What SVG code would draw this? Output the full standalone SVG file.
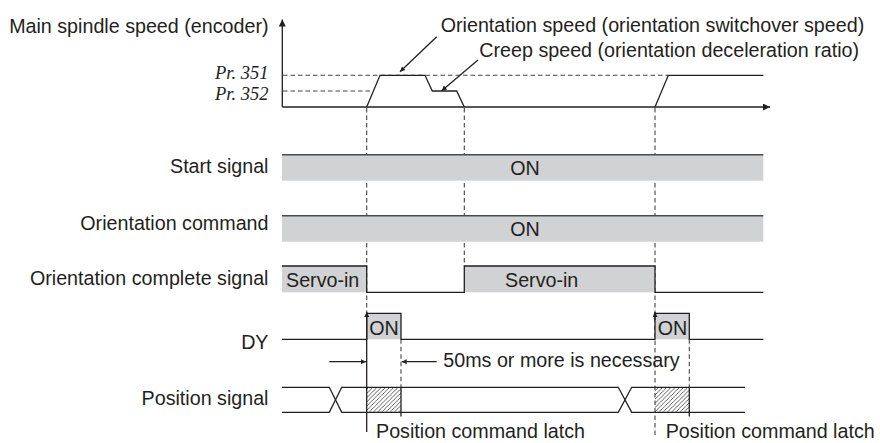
<svg xmlns="http://www.w3.org/2000/svg" width="880" height="443" viewBox="0 0 880 443">
<style>
text{font-family:"Liberation Sans",Arial,sans-serif;font-size:19.7px;fill:#231f20}
.r{text-anchor:end}
.pr{font-family:"Liberation Serif","Times New Roman",serif;font-style:italic;font-size:18.5px}
.ln{fill:none;stroke:#231f20;stroke-width:1.3}
.dash{fill:none;stroke:#444;stroke-width:1.1;stroke-dasharray:4.5 3}
.bar{fill:#d1d2d4}
.top{stroke:#4a4a4a;stroke-width:1.6}
</style>
<defs>
<marker id="big" viewBox="0 0 10 10" refX="10" refY="5" markerWidth="8" markerHeight="7" markerUnits="userSpaceOnUse" orient="auto"><path d="M0,0 L10,5 L0,10 z" fill="#231f20"/></marker>
<marker id="sm" viewBox="0 0 10 10" refX="10" refY="5" markerWidth="7" markerHeight="5" markerUnits="userSpaceOnUse" orient="auto"><path d="M0,0 L10,5 L0,10 z" fill="#231f20"/></marker>
<pattern id="hatch" patternUnits="userSpaceOnUse" width="4.2" height="4.2"><path d="M-1,1 L1,-1 M0,4.2 L4.2,0 M3.2,5.2 L5.2,3.2" stroke="#231f20" stroke-width="0.7"/></pattern>
</defs>

<g id="labels">
<text class="r" x="268.5" y="33.3">Main spindle speed (encoder)</text>
<text class="r pr" x="268.5" y="79">Pr. 351</text>
<text class="r pr" x="268.5" y="100">Pr. 352</text>
<text class="r" x="268.5" y="173.3">Start signal</text>
<text class="r" x="268.5" y="230">Orientation command</text>
<text class="r" x="268.5" y="285">Orientation complete signal</text>
<text class="r" x="268.5" y="349">DY</text>
<text class="r" x="268.5" y="405">Position signal</text>
</g>

<g id="speed">
<line class="ln" x1="282.3" y1="107" x2="282.3" y2="19.5" marker-end="url(#big)"/>
<line class="ln" x1="282.3" y1="107" x2="770" y2="107" marker-end="url(#big)"/>
<line class="dash" x1="283" y1="75.3" x2="668" y2="75.3"/>
<line class="dash" x1="283" y1="91" x2="373" y2="91"/>
<polyline class="ln" points="366.7,107 380,75.3 425,75.3 432.3,91 456.7,91 464.3,107"/>
<polyline class="ln" points="655,107 668.3,75.3 763.3,75.3"/>
<text x="440.7" y="31.7">Orientation speed (orientation switchover speed)</text>
<text x="479.3" y="56.7">Creep speed (orientation deceleration ratio)</text>
<line class="ln" stroke-width="1" x1="436.7" y1="36.7" x2="400" y2="71.7" marker-end="url(#sm)"/>
<line class="ln" stroke-width="1" x1="478" y1="60" x2="441.7" y2="90.7" marker-end="url(#sm)"/>
</g>

<g id="guides">
<line class="dash" x1="366.7" y1="108" x2="366.7" y2="313"/>
<line class="dash" x1="464.3" y1="108" x2="464.3" y2="266"/>
<line class="dash" x1="655" y1="108" x2="655" y2="437"/>
<line class="dash" x1="401" y1="339.3" x2="401" y2="387"/>
<line class="dash" x1="689.3" y1="339.3" x2="689.3" y2="387"/>
</g>

<g id="start-signal">
<rect class="bar" x="282" y="154.7" width="481.3" height="26"/>
<line class="top" x1="282" y1="154.7" x2="763.3" y2="154.7"/>
<text x="525" y="175" text-anchor="middle">ON</text>
</g>

<g id="orientation-command">
<rect class="bar" x="282" y="215.7" width="481.3" height="26"/>
<line class="top" x1="282" y1="215.7" x2="763.3" y2="215.7"/>
<text x="525" y="236" text-anchor="middle">ON</text>
</g>

<g id="orientation-complete">
<rect class="bar" x="282" y="266" width="84.7" height="26.3"/>
<rect class="bar" x="464.3" y="266" width="190.7" height="26.3"/>
<polyline class="ln" points="282,266 366.7,266 366.7,292.3 464.3,292.3 464.3,266 655,266 655,292.3 763.3,292.3"/>
<text x="286" y="287.3">Servo-in</text>
<text x="505" y="287.3">Servo-in</text>
</g>

<g id="dy">
<rect class="bar" x="366.7" y="313.3" width="34.3" height="26"/>
<rect class="bar" x="655" y="313.3" width="34.3" height="26"/>
<polyline class="ln" points="282,339.3 366.7,339.3 366.7,313.3 401,313.3 401,339.3 655,339.3 655,313.3 689.3,313.3 689.3,339.3 763.3,339.3"/>
<text x="369.3" y="335">ON</text>
<text x="657.8" y="335">ON</text>
<line class="ln" stroke-width="1.2" x1="366.7" y1="432" x2="366.7" y2="312" marker-end="url(#sm)"/>
<line class="ln" stroke-width="1.2" x1="655" y1="320" x2="655" y2="312" marker-end="url(#sm)"/>
</g>

<g id="interval">
<line class="ln" stroke-width="1" x1="329.3" y1="361.7" x2="366" y2="361.7" marker-end="url(#sm)"/>
<line class="ln" stroke-width="1" x1="436.7" y1="361.7" x2="401.7" y2="361.7" marker-end="url(#sm)"/>
<text x="443.3" y="367">50ms or more is necessary</text>
</g>

<g id="position-signal">
<rect x="366.7" y="387.3" width="34.3" height="25" fill="url(#hatch)"/>
<rect x="655" y="387.3" width="34.3" height="25" fill="url(#hatch)"/>
<polyline class="ln" points="282,387.3 329.3,387.3 341.7,412.3 618.3,412.3 631.7,387.3 745,387.3"/>
<polyline class="ln" points="282,412.3 329.3,412.3 341.7,387.3 618.3,387.3 631.7,412.3 745,412.3"/>
<line class="ln" x1="401" y1="387.3" x2="401" y2="416.5"/>
<line class="ln" x1="689.3" y1="387.3" x2="689.3" y2="416.5"/>
<text x="376" y="438.3">Position command latch</text>
<text x="665.7" y="438.3">Position command latch</text>
</g>
</svg>
